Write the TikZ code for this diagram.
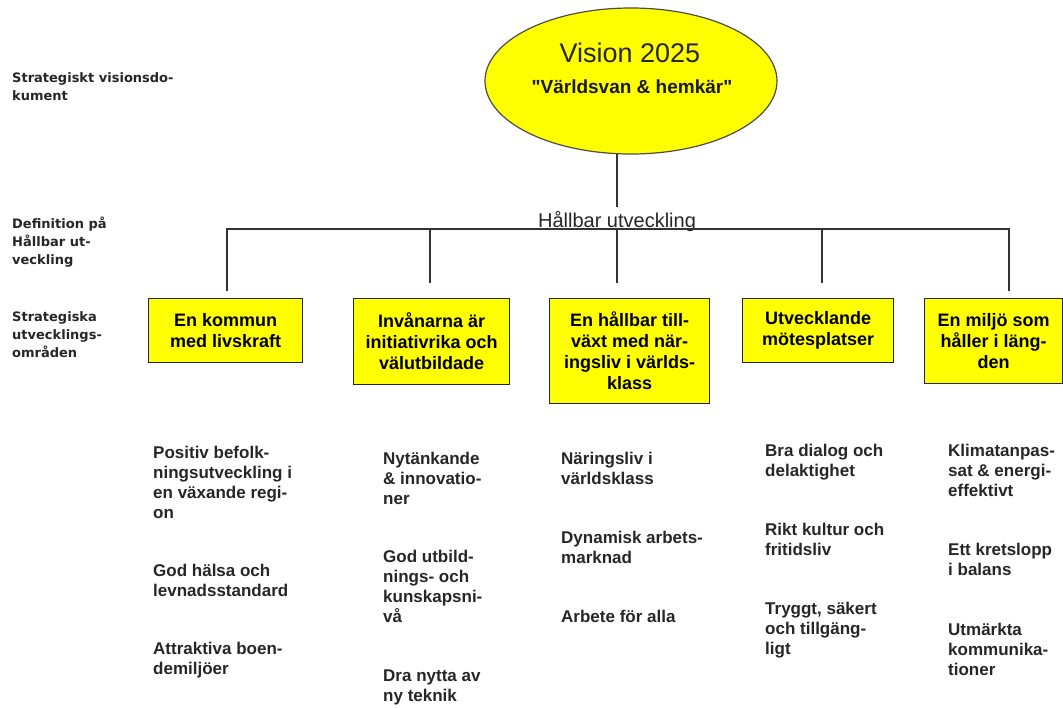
\documentclass[tikz,border=0pt]{standalone}
\usepackage{fontspec}
\setmainfont{Liberation Sans}[Ligatures=TeXOff]
\newfontfamily\sidefont{DejaVu Sans}
\usepackage{xcolor}
\usetikzlibrary{
    shapes.geometric,
    positioning
}
\newcommand{\fs}[2]{\fontsize{#1}{#2}\selectfont}
\definecolor{visionyellow}{HTML}{FFFF00}

\begin{document}
\begin{tikzpicture}[x=1pt, y=-1pt,
    side/.style={anchor=north west, inner sep=0pt, align=left, text=black!85, font=\sidefont\bfseries\fs{13}{18}},
    goal/.style 2 args={draw=black!85, fill=visionyellow, line width=1.3pt, align=center, inner sep=0pt, anchor=north west,
        minimum width=#1, minimum height=#2, font=\bfseries\fs{18}{21}},
    item/.style={anchor=north west, inner sep=0pt, align=left, text=black!85, font=\bfseries\fs{17}{20}},
    tree/.style={draw=black!80, line width=1.4pt, line cap=rect}]
                        \useasboundingbox (0, 0) rectangle (1063, 707);
                        \node[ellipse, draw=black!70, fill=visionyellow, line width=1.2pt, minimum width=292, minimum height=146, inner sep=0pt] (vision) at (631, 81) {};
                        \node[text=black!85, font=\fs{27}{32}] (visiontitle) at (630, 53) {Vision 2025};
                        \node[text=black!90, font=\bfseries\fs{19}{22}] (visionquote) at (632, 87) {"Världsvan \& hemkär"};
                        \node[anchor=base, inner sep=0pt, inner ysep=4pt, text=black!85, font=\fs{20}{24}] (hallbar) at (617, 227) {Hållbar utveckling};

                        \node[side] (sidevision) at (12, 72) {Strategiskt visionsdo-\\kument};
                        \node[side] (sidedef) at (12, 217) {Definition på\\Hållbar ut-\\veckling};
                        \node[side] (sidegoal) at (12, 311) {Strategiska\\utvecklings-\\områden};

                        \node[goal={154}{64}] (k1) at (148, 298) {En kommun\\med livskraft};
                        \node[goal={156}{86}] (k2) at (353, 298) {Invånarna är\\initiativrika och\\välutbildade};
                        \node[goal={160}{105}] (k3) at (549, 298) {En hållbar till-\\växt med när-\\ingsliv i världs-\\klass};
                        \node[goal={151}{64}] (k4) at (742, 298) {Utvecklande\\mötesplatser};
                        \node[goal={138}{85}] (k5) at (924, 298) {En miljö som\\håller i läng-\\den};

                        \coordinate (b1) at (227, 229);
                        \coordinate (b2) at (430, 229);
                        \coordinate (b3) at (617, 229);
                        \coordinate (b4) at (822, 229);
                        \coordinate (b5) at (1009, 229);
                        \draw[tree] (hallbar) -- (hallbar |- vision.south);
                        \draw[tree] (b1) -- (b5);
                        \draw[tree, shorten >=8pt] (b1) -- (b1 |- k1.north);
                        \draw[tree, shorten >=16pt] (b2) -- (b2 |- k2.north);
                        \draw[tree, shorten >=16pt] (b3) -- (b3 |- k3.north);
                        \draw[tree, shorten >=16pt] (b4) -- (b4 |- k4.north);
                        \draw[tree, shorten >=8pt] (b5) -- (b5 |- k5.north);

                        \node[item] (i11) at (153, 446) {Positiv befolk-\\ningsutveckling i\\en växande regi-\\on};
                        \node[item] (i12) at (153, 564) {God hälsa och\\levnadsstandard};
                        \node[item] (i13) at (153, 642) {Attraktiva boen-\\demiljöer};
                        \node[item] (i21) at (383, 452) {Nytänkande\\\& innovatio-\\ner};
                        \node[item] (i22) at (383, 550) {God utbild-\\nings- och\\kunskapsni-\\vå};
                        \node[item] (i23) at (383, 670) {Dra nytta av\\ny teknik};
                        \node[item] (i31) at (561, 452) {Näringsliv i\\världsklass};
                        \node[item] (i32) at (561, 531) {Dynamisk arbets-\\marknad};
                        \node[item] (i33) at (561, 610) {Arbete för alla};
                        \node[item] (i41) at (765, 444) {Bra dialog och\\delaktighet};
                        \node[item] (i42) at (765, 523) {Rikt kultur och\\fritidsliv};
                        \node[item] (i43) at (765, 602) {Tryggt, säkert\\och tillgäng-\\ligt};
                        \node[item] (i51) at (948, 444) {Klimatanpas-\\sat \& energi-\\effektivt};
                        \node[item] (i52) at (948, 543) {Ett kretslopp\\i balans};
                        \node[item] (i53) at (948, 623) {Utmärkta\\kommunika-\\tioner};
\end{tikzpicture}
\end{document}
